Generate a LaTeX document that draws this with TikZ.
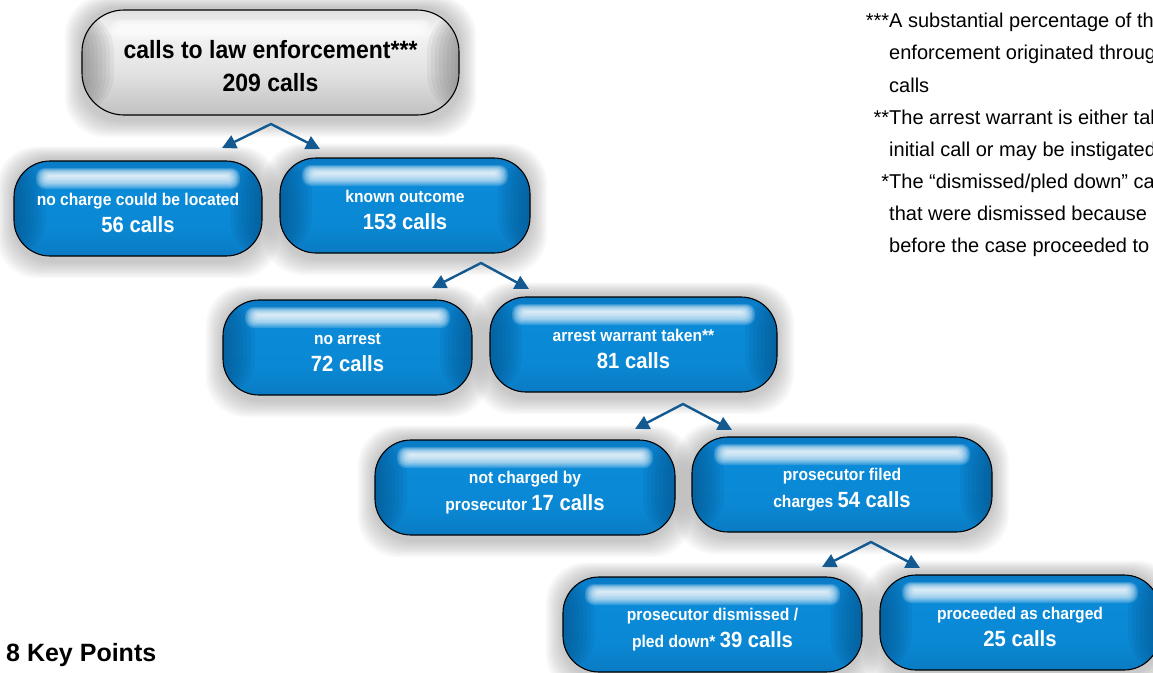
\documentclass[tikz,border=0pt]{standalone}
\usepackage{fontspec}
\setmainfont{Liberation Sans}
\newfontfamily\boxfont{Liberation Sans}[FakeStretch=0.92]
\usetikzlibrary{arrows.meta,calc}

\definecolor{arrowblue}{HTML}{14598F}
\definecolor{bA}{HTML}{0B5E9C}
\definecolor{bB}{HTML}{0A72B8}
\definecolor{bC}{HTML}{0A88D4}
\definecolor{bD}{HTML}{0A8AD8}
\definecolor{bE}{HTML}{0A74BD}
\definecolor{bF}{HTML}{085E9C}
\definecolor{bG}{HTML}{064C80}
\definecolor{bedge}{HTML}{05477A}
\definecolor{gA}{HTML}{8A8A8A}
\definecolor{gB}{HTML}{B5B5B5}
\definecolor{gC}{HTML}{E2E2E2}
\definecolor{gD}{HTML}{F4F4F4}
\definecolor{gE}{HTML}{CDCDCD}
\definecolor{gF}{HTML}{6A6A6A}
\definecolor{gedge}{HTML}{6A6A6A}

\pgfdeclareverticalshading{bluebody}{100bp}{color(0bp)=(bA); color(15bp)=(bB); color(40bp)=(bC); color(62bp)=(bD); color(80bp)=(bE); color(92bp)=(bF); color(100bp)=(bG)}
\pgfdeclareverticalshading{graybody}{100bp}{color(0bp)=(gA); color(18bp)=(gB); color(45bp)=(gC); color(65bp)=(gD); color(85bp)=(gE); color(100bp)=(gF)}

\pgfdeclarelayer{background}
\pgfsetlayers{background,main}

\newcommand\bignum[1]{{\fontsize{22}{27}\selectfont #1}}
\newcommand\lineone{\rule{0pt}{22pt}}
\newcommand\lineonetop{\rule{0pt}{25pt}}
\newcommand\pillshadow[1]{%
  \foreach \s in {1,...,12}{%
    \fill[black, opacity=0.018, rounded corners=40pt]
      ([shift={(-\s*1.4pt, 2pt+\s*1.0pt)}]#1.north west) rectangle
      ([shift={(\s*1.4pt, -5pt-\s*1.4pt)}]#1.south east);
  }}
% glossy interior: side darkening and a soft top highlight, drawn inside the node shape
\newcommand\glossfill[3]{% #1 edge colour, #2 side inset, #3 highlight centre below top
  \foreach \k in {1,...,8}{%
    \fill[#1, opacity=0.09] (path picture bounding box.south west) rectangle ([xshift=\k*4pt]path picture bounding box.north west);
    \fill[#1, opacity=0.09] (path picture bounding box.south east) rectangle ([xshift=-\k*4pt]path picture bounding box.north east);
  }%
  \foreach \k in {1,...,10}{%
    \fill[white, opacity=0.17, rounded corners=\k*0.9pt]
      ([shift={(#2+14pt-1.4pt*\k, -#3+0.8pt*\k)}]path picture bounding box.north west) rectangle
      ([shift={(-#2-14pt+1.4pt*\k, -#3-1.3pt*\k)}]path picture bounding box.north east);
  }}

\tikzset{
  pillbase/.style={rounded corners=36pt, draw=black, line width=1.1pt, inner sep=0pt,
    align=center, minimum height=95pt},
  bluepill/.style={pillbase, minimum width=#1, text=white,
    font=\boxfont\bfseries\fontsize{17}{27}\selectfont,
    path picture={
      \shade[shading=bluebody] (path picture bounding box.south west) rectangle (path picture bounding box.north east);
      \glossfill{bedge}{22pt}{15pt}
    }},
  graypill/.style={pillbase, minimum width=#1, minimum height=105pt, rounded corners=42pt, text=black,
    font=\boxfont\bfseries\fontsize{25}{32.6}\selectfont,
    path picture={
      \shade[shading=graybody] (path picture bounding box.south west) rectangle (path picture bounding box.north east);
      \glossfill{gedge}{28pt}{17pt}
    }},
  splitarrow/.style={draw=arrowblue, line width=2.4pt, miter limit=10,
    {Triangle[length=14pt,width=14pt]}-{Triangle[length=14pt,width=14pt]}},
  footnote/.style={anchor=base west, inner sep=0pt, font=\fontsize{20}{24}\selectfont, text=black},
  keypts/.style={anchor=base west, inner sep=0pt, font=\bfseries\fontsize{25}{30}\selectfont, text=black}
}

\begin{document}
\begin{tikzpicture}[x=1pt,y=-1pt]
\useasboundingbox (0,0) rectangle (1153,672);
\clip (0,0) rectangle (1153,672);

\node[graypill=377pt] (top) at (270.5,62.5) {\lineonetop calls to law enforcement***\\209 calls};
\node[bluepill=248pt] (n1) at (138,208.5) {\lineone no charge could be located\\\bignum{56 calls}};
\node[bluepill=250pt] (n2) at (405,205.5) {\lineone known outcome\\\bignum{153 calls}};
\node[bluepill=249pt] (n3) at (347.5,347.5) {\lineone no arrest\\\bignum{72 calls}};
\node[bluepill=287pt] (n4) at (633.5,344.5) {\lineone arrest warrant taken**\\\bignum{81 calls}};
\node[bluepill=300pt] (n5) at (525,487.5) {\lineone not charged by\\prosecutor \bignum{17 calls}};
\node[bluepill=300pt] (n6) at (842,484.5) {\lineone prosecutor filed\\charges \bignum{54 calls}};
\node[bluepill=299pt] (n7) at (712.5,624.5) {\lineone prosecutor dismissed /\\pled down* \bignum{39 calls}};
\node[bluepill=280pt] (n8) at (1020,622.5) {\lineone proceeded as charged\\\bignum{25 calls}};

\begin{pgfonlayer}{background}
  \foreach \n in {top,n1,n2,n3,n4,n5,n6,n7,n8}{\pillshadow{\n}}
\end{pgfonlayer}

% split connectors
\coordinate (a1) at (271,124);
\coordinate (a1l) at (222,148);
\coordinate (a1r) at (320,149);
\coordinate (a2) at (481,263);
\coordinate (a2l) at (432,288);
\coordinate (a2r) at (529,289);
\coordinate (a3) at (683,404);
\coordinate (a3l) at (635,429);
\coordinate (a3r) at (732,430);
\coordinate (a4) at (871,542);
\coordinate (a4l) at (822,567);
\coordinate (a4r) at (920,568);
\draw[splitarrow] (a1l) -- (a1) -- (a1r);
\draw[splitarrow] (a2l) -- (a2) -- (a2r);
\draw[splitarrow] (a3l) -- (a3) -- (a3r);
\draw[splitarrow] (a4l) -- (a4) -- (a4r);

% footnotes
\node[footnote] (f1) at (889,27) {\llap{***}A substantial percentage of th};
\node[footnote] (f2) at (889,59) {enforcement originated throug};
\node[footnote] (f3) at (889,92) {calls};
\node[footnote] (f4) at (889,124) {\llap{**}The arrest warrant is either tak};
\node[footnote] (f5) at (889,156) {initial call or may be instigated};
\node[footnote] (f6) at (889,188) {\llap{*}The “dismissed/pled down” ca};
\node[footnote] (f7) at (889,220) {that were dismissed because};
\node[footnote] (f8) at (889,252) {before the case proceeded to};

\node[keypts] (kp) at (6,661) {8 Key Points};
\end{tikzpicture}
\end{document}
